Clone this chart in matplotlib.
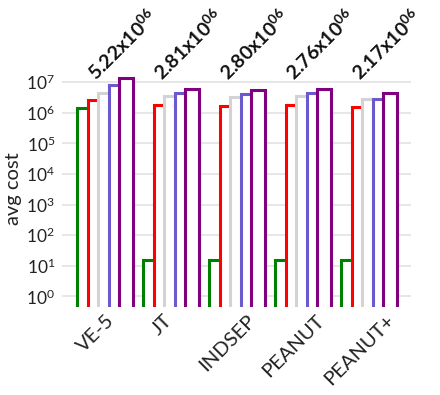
import numpy as np
import matplotlib
matplotlib.use("Agg")
import matplotlib.pyplot as plt
from matplotlib.ticker import NullLocator

plt.rcParams['font.family'] = ['Lato', 'DejaVu Sans']
plt.rcParams['mathtext.fontset'] = 'custom'
plt.rcParams['mathtext.rm'] = 'Lato'
plt.rcParams['mathtext.bf'] = 'Lato:bold'
plt.rcParams['mathtext.default'] = 'regular'

methodes = ["VE-5", "JT", "INDSEP", "PEANUT", "PEANUT+"]
couleurs = ["green", "red", "lightgray", "slateblue", "purple"]
# une serie par couleur
serie_vert = [1.4e6, 15.5, 15.5, 15.5, 15.5]
serie_rouge = [2.6e6, 1.8e6, 1.65e6, 1.8e6, 1.5e6]
serie_gris = [4.5e6, 3.5e6, 3.2e6, 3.5e6, 2.9e6]
serie_bleu = [8.3e6, 4.5e6, 4.1e6, 4.3e6, 2.9e6]
serie_violet = [1.35e7, 6.1e6, 5.8e6, 6.1e6, 4.5e6]
etiquettes = ["5.22", "2.81", "2.80", "2.76", "2.17"]

series = [serie_vert, serie_rouge, serie_gris, serie_bleu, serie_violet]

fig = plt.figure(figsize=(4.4, 3.95), dpi=100)
ax = fig.add_axes([0.141, 0.223, 0.793, 0.592])

x = np.arange(len(methodes))
pas = 0.16
largeur = 0.21
for j, (s, c) in enumerate(zip(series, couleurs)):
    ax.bar(x - 0.28 + j * pas, np.array(s) - 1e-3, width=largeur, bottom=1e-3,
           align='edge', facecolor='white', edgecolor=c, linewidth=2.2, zorder=2 + j)

for i, e in enumerate(etiquettes):
    ax.text(i + 0.41, 0.9e7, e + r'x10$^{06}$', rotation=45, ha='center', va='bottom',
            fontsize=14, fontweight='bold', color='#111111')

ax.set_yscale('log')
ax.set_ylim(0.45, 2e7)
ax.set_xlim(-0.51, 4.78)
ax.yaxis.set_minor_locator(NullLocator())
ax.set_yticks([10.0 ** k for k in range(8)])
ax.set_yticklabels([r'$10^{%d}$' % k for k in range(8)])
ax.set_xticks(x)
ax.set_xticklabels(methodes, rotation=45)
ax.tick_params(length=0, colors='#222222')
ax.tick_params(axis='x', labelsize=14.5)
ax.tick_params(axis='y', labelsize=12.5, pad=5)
fig.text(13 / 440, 1 - 189 / 395, "avg cost", rotation=90, ha='center', va='center',
         fontsize=14.5, color='#222222')
ax.grid(axis='y', color='#e3e3e3', linewidth=1.2, zorder=0)
ax.set_axisbelow(True)
for sp in ax.spines.values():
    sp.set_visible(False)

fig.savefig("out.png", dpi=100)
